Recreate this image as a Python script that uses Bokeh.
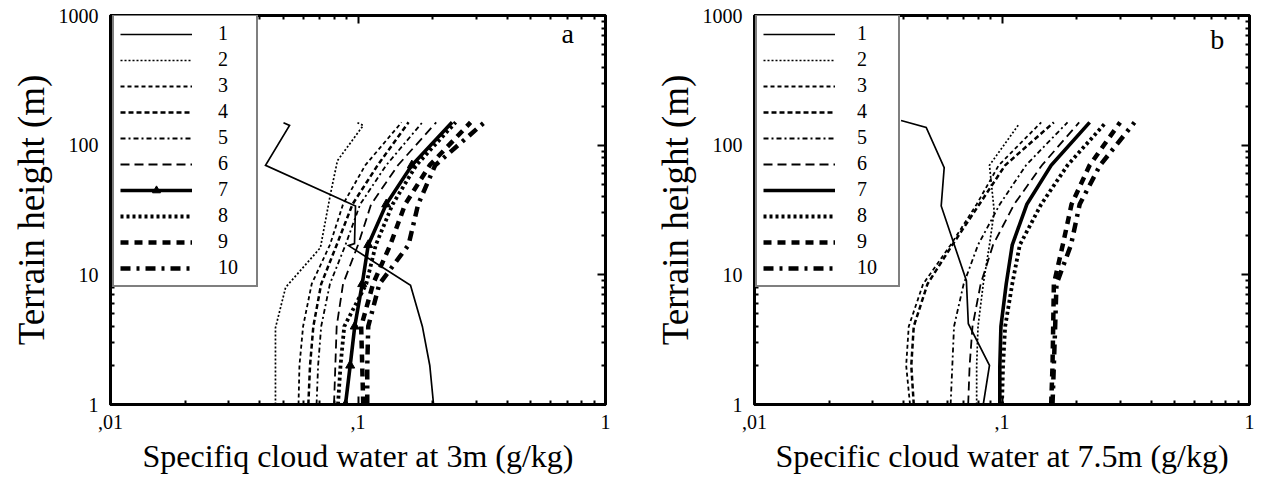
from bokeh.plotting import figure
from bokeh.models import (FixedTicker, CustomJSTickFormatter, LogAxis, Legend,
                          LegendItem, Label, Range1d)
from bokeh.layouts import row
from bokeh.embed import file_html
from bokeh.resources import INLINE

FONT = "Liberation Serif"

# ---------------- data ----------------
X_TICKS = [0.01, 0.1, 1]
X_MINOR = [0.02, 0.03, 0.04, 0.05, 0.06, 0.07, 0.08, 0.09,
           0.2, 0.3, 0.4, 0.5, 0.6, 0.7, 0.8, 0.9]
Y_TICKS = [1, 10, 100, 1000]
Y_MINOR = [2, 3, 4, 5, 6, 7, 8, 9, 20, 30, 40, 50, 60, 70, 80, 90,
           200, 300, 400, 500, 600, 700, 800, 900]
SERIES = ["1", "2", "3", "4", "5", "6", "7", "8", "9", "10"]

H = [1, 2, 4, 8.5, 17, 35, 70, 150]

# panel a : 3 m
A1_H = [1, 2, 4, 8.3, 16.8, 17.4, 34, 70, 142, 149]
A1_X = [0.202, 0.195, 0.182, 0.163, 0.0916, 0.0968, 0.0977, 0.0423, 0.0529, 0.050]
A2_H = [1, 3.9, 8, 16.2, 42, 76, 142, 149]
A2_X = [0.0464, 0.0464, 0.051, 0.0705, 0.0774, 0.0826, 0.105, 0.0995]
A3_X = [0.0575, 0.058, 0.060, 0.065, 0.077, 0.087, 0.107, 0.150]
A4_X = [0.063, 0.064, 0.066, 0.071, 0.082, 0.095, 0.120, 0.160]
A5_X = [0.068, 0.069, 0.071, 0.077, 0.089, 0.102, 0.130, 0.182]
A6_X = [0.080, 0.081, 0.082, 0.087, 0.100, 0.113, 0.145, 0.207]
A7_X = [0.089, 0.093, 0.097, 0.104, 0.110, 0.130, 0.165, 0.240]
A8_X = [0.083, 0.085, 0.088, 0.108, 0.118, 0.138, 0.172, 0.248]
A9_X = [0.105, 0.104, 0.103, 0.115, 0.135, 0.155, 0.195, 0.285]
A10_X = [0.109, 0.109, 0.110, 0.122, 0.160, 0.175, 0.205, 0.324]

# panel b : 7.5 m
B1_H = [1, 2, 4.2, 9.0, 34, 67, 137, 155]
B1_X = [0.084, 0.089, 0.0731, 0.0718, 0.0568, 0.0584, 0.0494, 0.0391]
B2_H = [1, 2, 4, 8.5, 17, 31, 70, 145]
B2_X = [0.079, 0.079, 0.080, 0.084, 0.089, 0.093, 0.089, 0.117]
B3_X = [0.0425, 0.041, 0.042, 0.048, 0.062, 0.079, 0.097, 0.144]
B4_X = [0.044, 0.043, 0.044, 0.050, 0.063, 0.081, 0.103, 0.162]
B5_X = [0.062, 0.063, 0.064, 0.070, 0.080, 0.098, 0.125, 0.184]
B6_X = [0.073, 0.074, 0.076, 0.082, 0.092, 0.112, 0.145, 0.205]
B7_X = [0.098, 0.098, 0.099, 0.104, 0.110, 0.126, 0.158, 0.226]
B8_X = [0.100, 0.101, 0.103, 0.110, 0.118, 0.144, 0.184, 0.263]
B9_X = [0.158, 0.160, 0.161, 0.162, 0.176, 0.191, 0.226, 0.300]
B10_X = [0.160, 0.162, 0.164, 0.166, 0.190, 0.206, 0.249, 0.343]

A_CURVES = [(A1_X, A1_H), (A2_X, A2_H), (A3_X, H), (A4_X, H), (A5_X, H),
            (A6_X, H), (A7_X, H), (A8_X, H), (A9_X, H), (A10_X, H)]
B_CURVES = [(B1_X, B1_H), (B2_X, B2_H), (B3_X, H), (B4_X, H), (B5_X, H),
            (B6_X, H), (B7_X, H), (B8_X, H), (B9_X, H), (B10_X, H)]

# ---------------- styles ----------------
STYLES = [
    dict(line_dash="solid", line_width=1.7),
    dict(line_dash="2 2", line_width=1.7),
    dict(line_dash="4 3", line_width=1.8),
    dict(line_dash="5 3", line_width=2.5),
    dict(line_dash="5 3 2 3", line_width=1.8),
    dict(line_dash="9 5", line_width=1.8),
    dict(line_dash="solid", line_width=3.6),
    dict(line_dash="3 3", line_width=3.8),
    dict(line_dash="8 6", line_width=4.5),
    dict(line_dash="10 6 3 6", line_width=4.5),
]

x_fmt_code = "if (tick < 0.05) { return ',01' } else if (tick < 0.5) { return ',1' } else { return '1' }"
y_fmt_code = "return Math.round(tick).toString()"
empty_code = "return ''"


def style_axis(ax, label_size="20px"):
    ax.axis_line_width = 3
    ax.axis_line_color = "black"
    ax.major_tick_in = 8
    ax.major_tick_out = 0
    ax.minor_tick_in = 4
    ax.minor_tick_out = 0
    ax.major_tick_line_width = 2
    ax.minor_tick_line_width = 2
    ax.major_label_text_font = FONT
    ax.major_label_text_font_size = label_size
    ax.major_label_text_color = "black"
    ax.axis_label_text_font = FONT
    ax.axis_label_text_font_style = "normal"
    ax.axis_label_text_color = "black"


def make_panel(curves, xlabel, letter, letter_x, letter_y, leg_vx, leg_standoff,
               leg_label_w, min_left, min_right, markers):
    p = figure(x_axis_type="log", y_axis_type="log",
               x_range=Range1d(0.01, 1), y_range=Range1d(1, 1000),
               frame_width=495, frame_height=389,
               min_border_left=min_left, min_border_right=min_right,
               min_border_top=15, min_border_bottom=78,
               output_backend="svg", toolbar_location=None)
    p.grid.visible = False
    p.outline_line_color = "black"
    p.outline_line_width = 3
    p.background_fill_color = "white"
    p.border_fill_color = "white"

    p.xaxis.ticker = FixedTicker(ticks=X_TICKS, minor_ticks=X_MINOR)
    p.yaxis.ticker = FixedTicker(ticks=Y_TICKS, minor_ticks=Y_MINOR)
    p.xaxis.formatter = CustomJSTickFormatter(code=x_fmt_code)
    p.yaxis.formatter = CustomJSTickFormatter(code=y_fmt_code)
    p.xaxis.axis_label = xlabel
    p.yaxis.axis_label = "Terrain height (m)"
    for ax in p.xaxis:
        style_axis(ax)
        ax.major_label_standoff = 10
        ax.axis_label_standoff = 6
        ax.axis_label_text_font_size = "32px"
    for ax in p.yaxis:
        style_axis(ax)
        ax.major_label_standoff = 12
        ax.axis_label_standoff = 4
        ax.axis_label_text_font_size = "37px"

    top = LogAxis(ticker=FixedTicker(ticks=X_TICKS, minor_ticks=X_MINOR),
                  formatter=CustomJSTickFormatter(code=empty_code))
    right = LogAxis(ticker=FixedTicker(ticks=Y_TICKS, minor_ticks=Y_MINOR),
                    formatter=CustomJSTickFormatter(code=empty_code))
    for ax in (top, right):
        style_axis(ax, "1px")
        ax.major_label_standoff = 0
    p.add_layout(top, "above")
    p.add_layout(right, "right")

    items = []
    for i, ((xs, hs), st) in enumerate(zip(curves, STYLES)):
        r = p.line(xs, hs, line_color="black", line_cap="butt", line_join="miter", **st)
        rs = [r]
        if markers and i == 6:
            m = p.scatter(xs[:-1], hs[:-1], marker="triangle", size=9,
                          fill_color="black", line_color="black")
            rs.append(m)
        items.append(LegendItem(label=SERIES[i], renderers=rs))

    leg = Legend(items=items, location=(leg_vx, 117))
    leg.label_text_font = FONT
    leg.label_text_font_size = "20px"
    leg.label_text_color = "black"
    leg.glyph_width = 72
    leg.glyph_height = 20
    leg.label_height = 20
    leg.label_width = leg_label_w
    leg.label_standoff = leg_standoff
    leg.padding = 6
    leg.spacing = 3
    leg.margin = 0
    leg.border_line_color = "black"
    leg.border_line_width = 2.5
    leg.background_fill_color = "white"
    leg.background_fill_alpha = 1.0
    p.add_layout(leg)

    p.add_layout(Label(x=letter_x, y=letter_y, text=letter, text_font=FONT,
                       text_font_size="28px", text_align="center",
                       text_baseline="alphabetic", text_color="black"))
    return p


pa = make_panel(A_CURVES, "Specifiq cloud water at 3m (g/kg)", "a", 0.703, 725,
                2, 26, 32, 110, 35, True)
pb = make_panel(B_CURVES, "Specific cloud water at 7.5m (g/kg)", "b", 0.741, 652,
                1, 22, 35, 114, 13, False)

layout = row(pa, pb)
open("out.html", "w").write(file_html(layout, INLINE))
